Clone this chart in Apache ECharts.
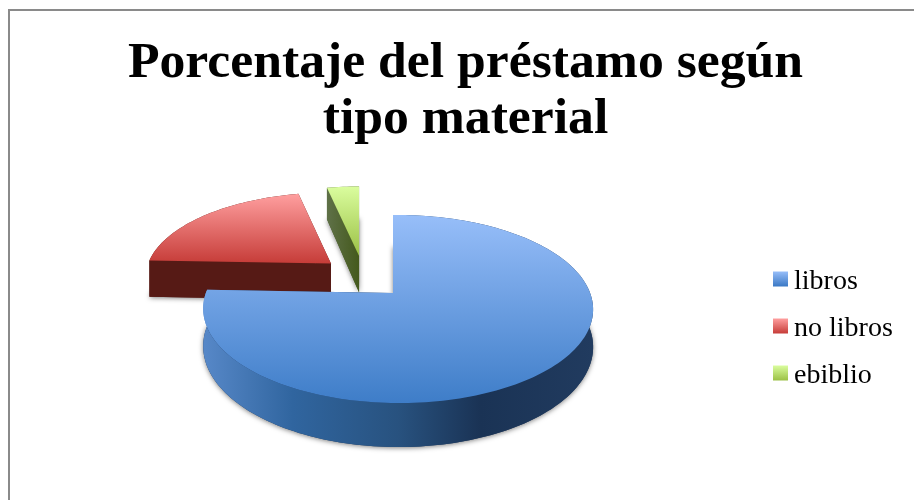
<!DOCTYPE html>
<html>
<head>
<meta charset="utf-8">
<style>html,body{margin:0;padding:0;background:#fff}#main{width:914px;height:500px}</style>
<script src="https://cdn.jsdelivr.net/npm/echarts@6/dist/echarts.min.js"></script>
</head>
<body>
<div id="main"></div>
<script>
const categories = ['libros', 'no libros', 'ebiblio'];
const values = [75.6, 21.1, 3.3];
const titleText = 'Porcentaje del préstamo según\ntipo material';

const topColors = [['#97bef9', '#3e7dc8'], ['#ff9f9f', '#c63c38'], ['#dafd9e', '#9bc045']];
const legendColors = [['#97bef9', '#3a78c4'], ['#ff9f9f', '#c63c38'], ['#dafd9e', '#9bc045']];
const wallColors = [
    [[0, '#5788c8'], [0.23, '#30659f'], [0.5, '#28527f'], [0.71, '#1a3355'], [1, '#213b5f']],
    [[0, '#561a15'], [1, '#561a15']],
    [[0, '#5f7148'], [1, '#44591c']]
];

// fake 3d: no 3d pie without echarts-gl, so the slices go through a rough perspective.
// apex moves linearly with the explode, the rim shrinks with distance from the viewer
const explode = 0.23, depth = 36.5;
const persp = 0.17, skews = [0.026, 0, 0];
const farX = 0.16, farY = 0.37;
const baseX = 393, baseY = 293, moveX = 185, moveY = 94;
const radiusX = 192, radiusY = 91.3;

function gradient(x, y, stops) {
    return new echarts.graphic.LinearGradient(0, 0, x, y, stops.map(s => ({offset: s[0], color: s[1]})));
}

function explodeAt(i) {
    const total = values.reduce((a, b) => a + b, 0);
    const before = values.slice(0, i).reduce((a, b) => a + b, 0);
    const mid = (before + values[i] / 2) / total * Math.PI * 2;
    return [explode * Math.sin(mid), -explode * Math.cos(mid)];
}

function renderSlice(params, api) {
    const i = params.seriesIndex;
    const total = values.reduce((a, b) => a + b, 0);
    const before = values.slice(0, i).reduce((a, b) => a + b, 0);
    const start = before / total * Math.PI * 2;
    const end = (before + api.value(0)) / total * Math.PI * 2;

    const ref = explodeAt(0), own = explodeAt(i);
    const du = own[0] - ref[0], dv = own[1] - ref[1];
    const apex = [baseX + du * moveX, baseY + dv * moveY];
    const apexLow = [apex[0], apex[1] + depth];

    const rim = (a, low) => {
        const u = Math.sin(a), v = -Math.cos(a);
        const near = 1 - persp * v - skews[i] * u;
        const x = apex[0] + radiusX * u / (near - farX * dv);
        const y = apex[1] + radiusY * v / (near - farY * dv);
        return [x, y + (low ? depth / (1 - persp * v) : 0)];
    };

    const arc = [], arcLow = [];
    const steps = Math.max(4, Math.round((end - start) * 40));
    for (let s = 0; s <= steps; s++) {
        const a = start + (end - start) * s / steps;
        arc.push(rim(a, false));
        arcLow.push(rim(a, true));
    }
    const wallFill = gradient(1, 0, wallColors[i]);
    const shadow = {shadowBlur: 5, shadowColor: 'rgba(0,0,0,0.5)', shadowOffsetY: 1};
    const n = arc.length - 1;

    return {
        type: 'group',
        children: [
            {type: 'polygon', shape: {points: arcLow.concat([apexLow])},
                style: Object.assign({fill: wallColors[i][wallColors[i].length - 1][1]}, shadow)},
            {type: 'polygon', shape: {points: [arc[n], apex, apexLow, arcLow[n]]},
                style: {fill: wallFill}},
            {type: 'polygon', shape: {points: [arc[0], apex, apexLow, arcLow[0]]},
                style: {fill: wallFill}},
            {type: 'polygon', shape: {points: arc.concat(arcLow.slice().reverse())},
                style: {fill: wallFill}},
            {type: 'polygon', shape: {points: [apex].concat(arc)},
                style: {fill: gradient(0, 1, topColors[i].map((c, k) => [k, c]))}}
        ]
    };
}

const chart = echarts.init(document.getElementById('main'), null, {renderer: 'canvas'});

// drawn back to front: ebiblio, no libros, libros
const series = categories.map((name, i) => ({
    name: name,
    type: 'custom',
    coordinateSystem: 'none',
    silent: true,
    animation: false,
    z: 10 - i,
    itemStyle: {color: legendColors[i][1]},
    renderItem: renderSlice,
    data: [[values[i]]]
}));

chart.setOption({
    backgroundColor: '#fff',
    animation: false,
    title: {
        text: titleText,
        left: 460.5,
        top: 31,
        textAlign: 'center',
        textStyle: {
            fontFamily: 'Liberation Serif',
            fontWeight: 'bold',
            fontSize: 51.7,
            lineHeight: 56,
            color: '#000'
        }
    },
    legend: {
        orient: 'vertical',
        left: 773,
        top: 262,
        padding: 0,
        itemWidth: 15,
        itemHeight: 15,
        itemGap: 13,
        icon: 'rect',
        selectedMode: false,
        formatter: name => '{t|' + name + '}',
        textStyle: {
            rich: {
                t: {fontFamily: 'Liberation Serif', fontSize: 28, color: '#000', lineHeight: 24, padding: [6, 0, 0, 1]}
            }
        },
        data: categories.map((name, i) => ({
            name: name,
            itemStyle: {color: gradient(0, 1, legendColors[i].map((c, k) => [k, c]))}
        }))
    },
    graphic: [{
        type: 'rect',
        silent: true,
        shape: {x: 9, y: 10, width: 1000, height: 1000},
        style: {fill: 'none', stroke: '#8a8a8a', lineWidth: 2}
    }],
    series: series
});
</script>
</body>
</html>
